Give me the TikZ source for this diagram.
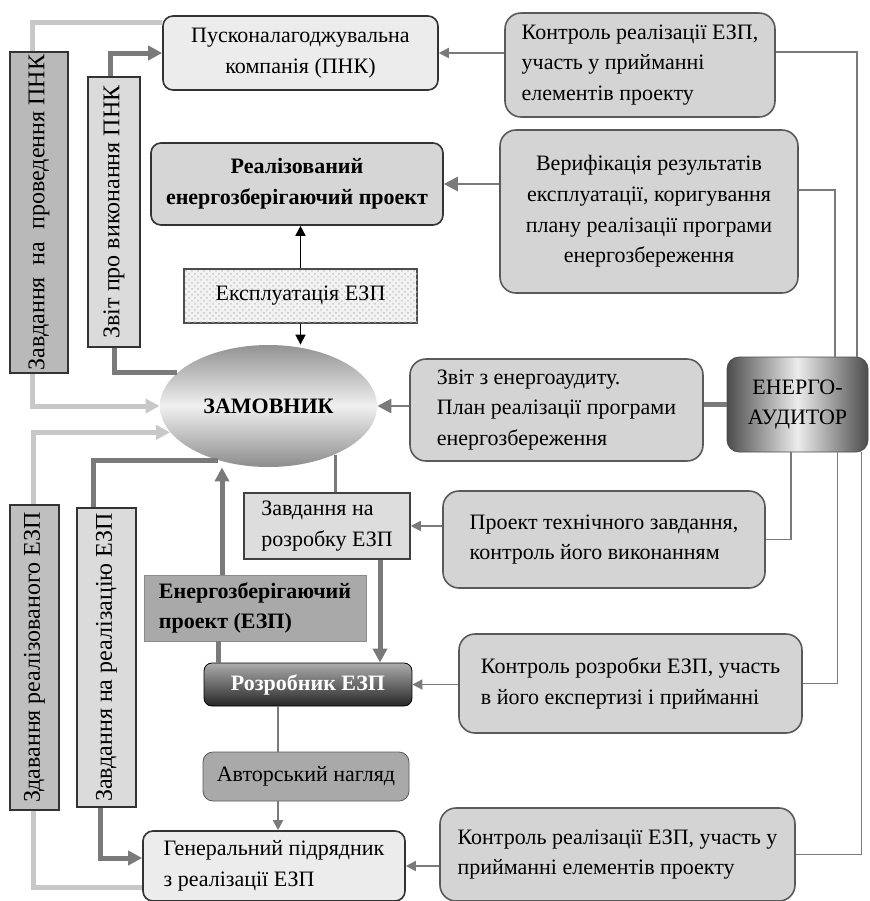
\documentclass[tikz,border=0pt]{standalone}
\usepackage{fontspec}
\setmainfont{Liberation Serif}
\usepackage{graphicx}
\usepackage{tikz}
\usetikzlibrary{positioning, arrows.meta, calc, shapes.geometric, patterns}
\definecolor{lineDark}{HTML}{7A7A7A}
\definecolor{lineLight}{HTML}{C8C8C8}
\definecolor{boxGray}{HTML}{D4D4D4}
\definecolor{boxLight}{HTML}{ECECEC}
\definecolor{boxDark}{HTML}{A9A9A9}
\definecolor{edgeGray}{HTML}{5A5A5A}
\newcommand{\boxfont}{\fontsize{11}{15.3}\selectfont}
\newcommand{\barfont}{\fontsize{12}{14}\selectfont}

\begin{document}
\begin{tikzpicture}[x=0.5pt, y=-0.5pt, font=\boxfont,
  org/.style={draw=black!80, thick, rounded corners=5pt, fill=boxLight,
              align=center, inner sep=3pt},
  ctrl/.style={draw=edgeGray, thick, rounded corners=8pt, fill=boxGray,
               align=left, inner sep=3pt},
  doc/.style={draw=black!75, thick, fill=boxGray!80, align=left, inner sep=3pt},
  expl/.style={draw=black!70, thick, fill=gray!10,
               postaction={pattern=crosshatch dots, pattern color=gray!45}},
  cust/.style={ellipse, top color=gray!85, bottom color=gray!90,
               middle color=gray!12, font=\boxfont\bfseries, inner sep=0pt},
  aud/.style={draw=black!70, rounded corners=6pt, left color=black!70,
              right color=black!70, middle color=gray!15, align=center, inner sep=2pt},
  devbox/.style={draw=black, rounded corners=4pt, top color=gray!65,
                 bottom color=black!85, text=white, font=\boxfont\bfseries},
  espbox/.style={draw=edgeGray!70, fill=boxDark, font=\boxfont\bfseries,
                 align=left, inner sep=3pt},
  supbox/.style={draw=edgeGray, rounded corners=5pt, fill=boxDark},
  bar/.style={draw=black!80, thick, inner sep=0pt, font=\barfont},
  arr/.style={-{Triangle[length=7pt, width=7pt]}},
  sarr/.style={-{Triangle[length=5pt, width=5pt]}},
  dline/.style={draw=lineDark, line width=2.5pt},
  lline/.style={draw=lineLight, line width=2.5pt},
  mline/.style={draw=lineDark, line width=1.4pt},
  hline/.style={draw=lineDark, line width=0.9pt},
  tline/.style={draw=black, line width=0.8pt}
]
\useasboundingbox (0,0) rectangle (869,901);

% vertical documents
\node[bar, fill=gray!55, minimum width=29pt, minimum height=160.5pt] (bar1) at (39,212.5)
  {\rotatebox{90}{Завдання \ на \ проведення ПНК}};
\node[bar, fill=gray!28, minimum width=26pt, minimum height=135pt] (bar2) at (114,212)
  {\rotatebox{90}{Звіт про виконання ПНК}};
\node[bar, fill=gray!50, minimum width=24.5pt, minimum height=152.5pt] (bar3) at (34.5,657.5)
  {\rotatebox{90}{Здавання реалізованого ЕЗП}};
\node[bar, fill=gray!28, minimum width=29.5pt, minimum height=149.5pt] (bar4) at (106.5,657.5)
  {\rotatebox{90}{Завдання на реалізацію ЕЗП}};

% participants
\node[org, minimum width=137.5pt, minimum height=37pt] (pnk) at (300.5,53)
  {Пусконалагоджувальна\\компанія (ПНК)};
\node[org, font=\boxfont\bfseries, fill=boxLight!80!gray, minimum width=146pt, minimum height=41pt] (done) at (297,184)
  {Реалізований\\енергозберігаючий проект};
\node[expl, minimum width=116.5pt, minimum height=27pt] (expl) at (300.5,296) {Експлуатація ЕЗП};
\node[cust, minimum width=108.5pt, minimum height=61pt] (cust) at (268.5,406) {ЗАМОВНИК};
\node[aud, minimum width=70.5pt, minimum height=47.5pt] (aud) at (797.5,404.5) {ЕНЕРГО-\\АУДИТОР};
\node[doc, minimum width=83pt, minimum height=33pt] (task) at (327,526) {Завдання на\\розробку ЕЗП};
\node[espbox, minimum width=111pt, minimum height=33pt] (esp) at (255,608)
  {Енергозберігаючий\\проект (ЕЗП)};
\node[devbox, minimum width=104pt, minimum height=21.5pt] (dev) at (308,684.5) {Розробник ЕЗП};
\node[supbox, minimum width=103pt, minimum height=24.5pt] (super) at (306,776.5) {Авторський нагляд};
\node[org, align=left, minimum width=131pt, minimum height=35pt] (gen) at (274,866)
  {Генеральний підрядник\\з реалізації ЕЗП};

% auditor actions
\node[ctrl, minimum width=135pt, minimum height=52pt] (ctrlpnk) at (640,65)
  {Контроль реалізації ЕЗП,\\участь у прийманні\\елементів проекту};
\node[ctrl, align=center, minimum width=149pt, minimum height=81.5pt] (verif) at (649,211.5)
  {Верифікація результатів\\експлуатації, коригування\\плану реалізації програми\\енергозбереження};
\node[ctrl, minimum width=146.5pt, minimum height=51pt] (report) at (556.5,410)
  {Звіт з енергоаудиту.\\План реалізації програми\\енергозбереження};
\node[ctrl, minimum width=161pt, minimum height=48.5pt] (techtask) at (604,539.5)
  {Проект технічного завдання,\\контроль його виконанням};
\node[ctrl, minimum width=171.5pt, minimum height=49.5pt] (ctrldev) at (630.5,683.5)
  {Контроль розробки ЕЗП, участь\\в його експертизі і прийманні};
\node[ctrl, minimum width=177.5pt, minimum height=46.5pt] (ctrlgen) at (617.5,854.5)
  {Контроль реалізації ЕЗП, участь у\\прийманні елементів проекту};

% links of the customer
\draw[lline] ([xshift=-3.5pt]bar1.north) |- ([yshift=15.5pt]pnk.west);
\draw[dline, arr] ([xshift=-2pt]bar2.north) |- (pnk.west);
\draw[lline, arr] ([xshift=-3.5pt]bar1.south) |- (cust.west);
\draw[dline] (bar2.south) |- (cust.160);
\draw[lline, arr] ([xshift=-0.75pt]bar3.north) |- (cust.195);
\draw[lline] ([xshift=-0.75pt]bar3.south) |- ([yshift=-10.5pt]gen.west);
\draw[dline] ([xshift=-6.75pt]bar4.north) |- (cust.227);
\draw[dline, arr] ([xshift=-3.25pt]bar4.south) |- ([yshift=4pt]gen.west);

\draw[tline, sarr] (expl.south) -- (expl.south |- cust.north);
\draw[tline, sarr] (expl.north) -- (expl.north |- done.south);

\draw[mline] (cust.324) -- (cust.324 |- task.north);
\draw[dline, arr] ([xshift=26.5pt]task.south) -- ([xshift=26.5pt]task.south |- dev.north);
\draw[dline, arr] ([xshift=-16.5pt]esp.north) -- ([xshift=-16.5pt]esp.north |- cust.south);
\draw[dline] ([xshift=-18.5pt]esp.south) -- ([xshift=-18.5pt]esp.south |- dev.north);
\draw[hline] ([xshift=-15pt]dev.south) -- ([xshift=-15pt]dev.south |- super.north);
\draw[hline, sarr] ([xshift=-14pt]super.south) -- ([xshift=-14pt]super.south |- gen.north);

% links of the auditor
\draw[hline, sarr] (pnk.east -| ctrlpnk.west) -- (pnk.east);
\draw[mline, arr] (done.east -| verif.west) -- (done.east);
\draw[mline, arr] (cust.east -| report.west) -- (cust.east);
\draw[dline] (aud.west) -- (aud.west -| report.east);
\draw[hline] ([yshift=6.5pt]ctrlpnk.east) -| ([xshift=29.75pt]aud.north);
\draw[mline] ([yshift=10.75pt]verif.east) -| ([xshift=18.75pt]aud.north);
\draw[hline] ([xshift=-3.25pt]aud.south) |- (techtask.east);
\draw[hline] ([xshift=20pt]aud.south) |- (ctrldev.east);
\draw[hline] ([xshift=32pt]aud.south) |- (ctrlgen.east);
\draw[hline, sarr] (task.east -| techtask.west) -- (task.east);
\draw[hline, sarr] (dev.east -| ctrldev.west) -- (dev.east);
\draw[hline, sarr] (gen.east -| ctrlgen.west) -- (gen.east);
\end{tikzpicture}
\end{document}
